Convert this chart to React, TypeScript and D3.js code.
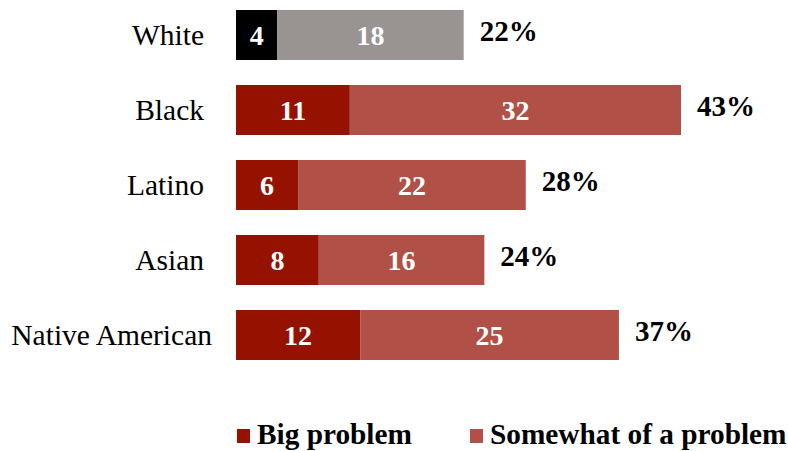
import React from "react";
import * as d3 from "d3";

const categories = ["White", "Black", "Latino", "Asian", "Native American"];
const bigProblem = [4, 11, 6, 8, 12];
const somewhat = [18, 32, 22, 16, 25];
const totals = ["22%", "43%", "28%", "24%", "37%"];
const legendLabels = ["Big problem", "Somewhat of a problem"];

const W = 788;
const H = 451;
const FONT = "'Liberation Serif', 'Times New Roman', serif";
const BIG = "#961200";
const SOME = "#b05046";
const WHITE_BIG = "#000000";
const WHITE_SOME = "#999492";

export default function App() {
  const x = d3.scaleLinear().domain([0, 43]).range([236, 681]);
  const y = d3.scaleBand().domain(categories).range([-2.5, 372.5]).paddingInner(1 / 3).paddingOuter(1 / 6);
  const bw = y.bandwidth();

  return (
    <div style={{ position: "absolute", left: 0, top: 0 }}>
      <svg width={W} height={H} style={{ display: "block", fontFamily: FONT }}>
        <rect width={W} height={H} fill="#fff" />
        {categories.map((c, i) => {
          const y0 = y(c)!;
          const cy = y0 + bw / 2;
          const isWhite = i === 0;
          const b = bigProblem[i];
          const s = somewhat[i];
          return (
            <g key={c}>
              <text x={i === 4 ? 212 : 204} y={cy + 9.5} textAnchor="end" fontSize={29.5} fill="#000">
                {c}
              </text>
              <rect x={x(0)} y={y0} width={x(b) - x(0)} height={bw} fill={isWhite ? WHITE_BIG : BIG} />
              <rect x={x(b)} y={y0} width={x(b + s) - x(b)} height={bw} fill={isWhite ? WHITE_SOME : SOME} />
              <text x={(x(0) + x(b)) / 2} y={cy + 10} textAnchor="middle" fontSize={28} fontWeight="bold" fill="#fff">
                {b}
              </text>
              <text x={(x(b) + x(b + s)) / 2} y={cy + 10} textAnchor="middle" fontSize={28} fontWeight="bold" fill="#fff">
                {s}
              </text>
              <text x={x(b + s) + 16} y={cy + 6} textAnchor="start" fontSize={29} fontWeight="bold" fill="#000">
                {totals[i]}
              </text>
            </g>
          );
        })}
        <g>
          <rect x={237} y={429} width={13} height={14} fill={BIG} />
          <text x={257} y={444} fontSize={29.3} fontWeight="bold" fill="#000">
            {legendLabels[0]}
          </text>
          <rect x={470} y={429} width={13} height={14} fill={SOME} />
          <text x={490} y={444} fontSize={29.3} fontWeight="bold" fill="#000">
            {legendLabels[1]}
          </text>
        </g>
      </svg>
    </div>
  );
}
